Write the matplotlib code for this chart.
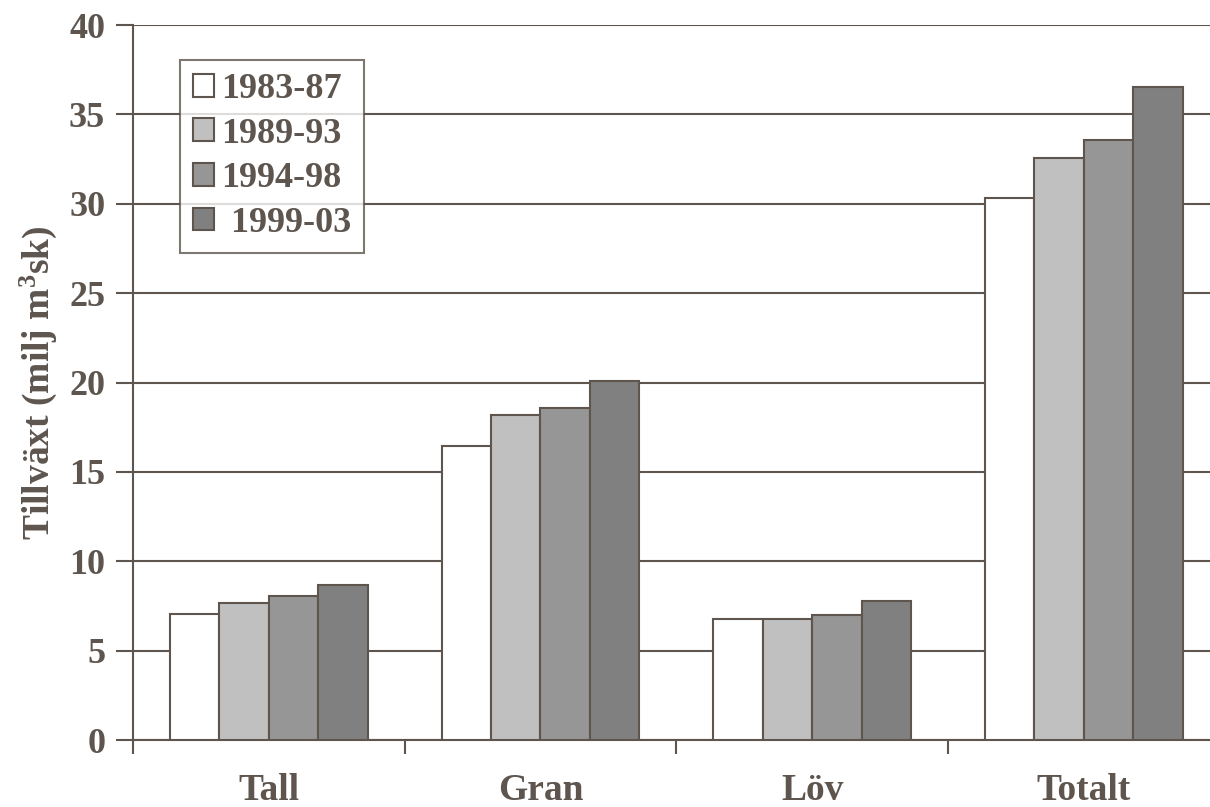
import matplotlib.pyplot as plt
from matplotlib.patches import Patch
import numpy as np

plt.rcParams['font.family'] = ['Liberation Serif', 'DejaVu Serif']
plt.rcParams['font.weight'] = 'bold'
plt.rcParams['mathtext.fontset'] = 'custom'
plt.rcParams['mathtext.bf'] = 'Liberation Serif:bold'
plt.rcParams['mathtext.rm'] = 'Liberation Serif:bold'
plt.rcParams['mathtext.default'] = 'rm'

# DATA
categories = ['Tall', 'Gran', 'Löv', 'Totalt']
periods = ['1983-87', '1989-93', '1994-98', ' 1999-03']
values = [
    [7.05, 16.45, 6.77, 30.32],
    [7.64, 18.18, 6.77, 32.56],
    [8.08, 18.57, 6.99, 33.57],
    [8.70, 20.08, 7.78, 36.53],
]
colors = ['#ffffff', '#c0c0c0', '#969696', '#808080']
INK = '#5d554e'

fig = plt.figure(figsize=(12.1, 8.07), dpi=100)
ax = fig.add_axes([0.1099, 0.083, 0.898, 0.886])

x = np.arange(len(categories))
w = 0.182
for i, (vals, c) in enumerate(zip(values, colors)):
    ax.bar(x + (i - 1.5) * w, vals, width=w, color=c, edgecolor=INK,
           linewidth=1.5, zorder=3)

ax.set_xlim(-0.5, len(categories) - 0.5)
ax.set_ylim(0, 40)
ax.set_yticks(np.arange(0, 41, 5))
ax.yaxis.grid(True, color=INK, linewidth=1.5, zorder=0)
ax.set_axisbelow(True)

ax.set_xticks(np.arange(len(categories) + 1) - 0.5)
ax.set_xticklabels([])
ax.set_xticks(x, minor=True)
ax.set_xticklabels(categories, minor=True)
ax.tick_params(axis='x', which='major', length=10, width=1.5, color=INK)
ax.tick_params(axis='x', which='minor', length=0, pad=24,
               labelsize=27, labelcolor=INK)
ax.tick_params(axis='y', length=12, width=1.5, color=INK,
               labelsize=26, labelcolor=INK, pad=8)

for s in ['top', 'right']:
    ax.spines[s].set_visible(False)
for s in ['left', 'bottom']:
    ax.spines[s].set_color(INK)
    ax.spines[s].set_linewidth(1.5)

ax.set_ylabel('Tillväxt (milj m$^{3}$sk)', fontsize=27,
              color=INK, fontweight='bold')
ax.yaxis.set_label_coords(-0.068, 0.5)

handles = [Patch(facecolor=c, edgecolor=INK, linewidth=1.5) for c in colors]
leg = ax.legend(handles, periods, loc='upper left',
                bbox_to_anchor=(0.043, 0.951), borderaxespad=0,
                fontsize=26, frameon=True,
                fancybox=False, edgecolor=INK, handlelength=0.6,
                handleheight=0.6, handletextpad=0.2, labelspacing=0.32,
                borderpad=0.36)
leg.get_frame().set_linewidth(1.5)
for t in leg.get_texts():
    t.set_color(INK)

fig.savefig('out.png', dpi=100)
